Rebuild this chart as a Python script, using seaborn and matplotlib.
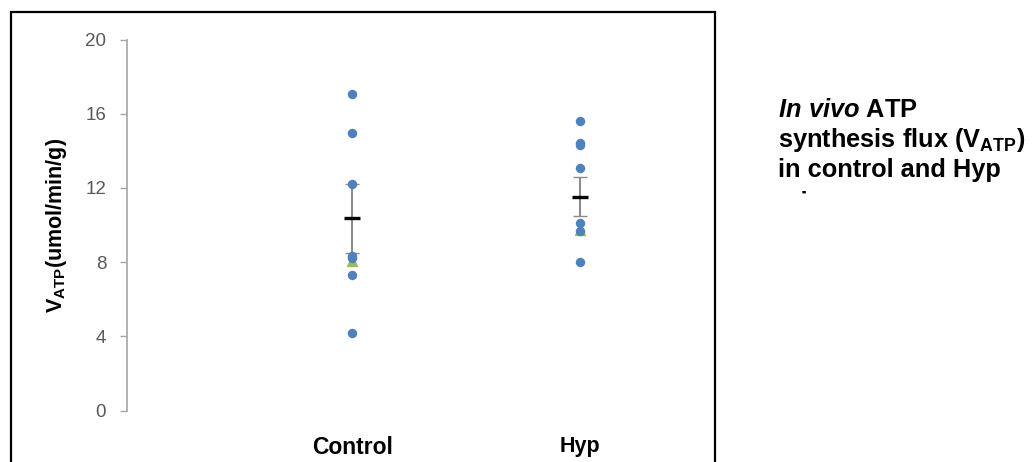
import pandas as pd
import matplotlib
matplotlib.use('Agg')
import matplotlib.pyplot as plt
import seaborn as sns
from matplotlib.patches import Rectangle
from matplotlib.transforms import Bbox

# Values
groups = ['Control', 'Hyp']
control_vatp = [17.05, 14.97, 12.2, 8.35, 8.25, 7.31, 4.19]
hyp_vatp = [15.62, 14.4, 14.3, 13.1, 10.1, 9.69, 8.03]
group_means = [10.37, 11.54]
group_err = [1.85, 1.07]
green_marks = [8.05, 9.75]
y_ticks = [0, 4, 8, 12, 16, 20]

sns.set_theme(style="white")
plt.rcParams['font.family'] = ['Liberation Sans', 'DejaVu Sans']
plt.rcParams['text.color'] = 'black'
plt.rcParams['mathtext.fontset'] = 'custom'
plt.rcParams['mathtext.rm'] = 'Liberation Sans:bold'
plt.rcParams['mathtext.bf'] = 'Liberation Sans:bold'
plt.rcParams['mathtext.it'] = 'Liberation Sans:italic:bold'

W, H = 1036, 462


def make_plot():
    df = pd.DataFrame({
        'group': ['Control'] * len(control_vatp) + ['Hyp'] * len(hyp_vatp),
        'vatp': control_vatp + hyp_vatp,
    })

    fig = plt.figure(figsize=(W / 100, H / 100), dpi=100)
    ax = fig.add_axes([127 / W, 1 - 410.7 / H, 573 / W, 371.2 / H])

    # green markers sit behind the dots
    ax.plot([0, 1], green_marks, ls='none', marker='^', ms=7, color='#9BBB59', zorder=2)

    # error bars (gray line, black caps)
    eb = ax.errorbar([0, 1], group_means, yerr=group_err, fmt='none', ecolor='#8C8C8C',
                     elinewidth=1.5, capsize=5, capthick=1, zorder=2.5)
    for cap in eb[1]:
        cap.set_color('black')

    sns.stripplot(x='group', y='vatp', data=df, order=groups, jitter=False,
                  color='#4F81BD', size=6.8, linewidth=0, zorder=3, ax=ax)

    # mean bars
    ax.plot([0, 1], group_means, ls='none', marker='_', ms=11, mew=2.4, color='black', zorder=4)

    ax.set_ylim(0, 20)
    ax.set_yticks(y_ticks)
    ax.set_xlim(-0.991, 1.53)
    ax.set_xlabel('')
    ax.set_ylabel(r'V$_{\mathbf{ATP}}$(umol/min/g)', fontsize=15.5, fontweight='bold', color='black')
    ax.yaxis.set_label_coords(-0.101, 0.5)

    for side in ['top', 'right', 'bottom']:
        ax.spines[side].set_visible(False)
    ax.spines['left'].set_color('#A6A6A6')
    ax.spines['left'].set_linewidth(1.2)
    ax.tick_params(axis='y', direction='out', length=5, width=1, color='#A6A6A6',
                   labelcolor='#595959', labelsize=13.5, pad=10, left=True)
    ax.tick_params(axis='x', length=0, pad=18, labelsize=15.5, labelcolor='black')
    xlabs = ax.get_xticklabels()
    for lab in xlabs:
        lab.set_fontweight('bold')
    xlabs[0].set_fontsize(16.5)
    ax.grid(False)

    # outer black frame (cut off at the bottom like the reference)
    fig.patches.append(Rectangle((11 / W, -0.2), (715 - 11) / W, 1.2 - 12 / H,
                                 transform=fig.transFigure, fill=False,
                                 edgecolor='black', linewidth=1.6))

    # side caption, last line is hidden except for the dot of the "i"
    tx = 778 / W
    fs = 18.3
    fig.text(tx, 1 - 117 / H, r'$\mathit{In\ vivo}$ ATP', fontsize=fs, fontweight='bold', va='baseline')
    fig.text(tx, 1 - 147 / H, r'synthesis flux (V$_{\mathbf{ATP}}$)', fontsize=fs, fontweight='bold', va='baseline')
    fig.text(tx, 1 - 177 / H, 'in control and Hyp', fontsize=fs, fontweight='bold', va='baseline')
    last = fig.text(tx, 1 - 210 / H, 'mice', fontsize=fs, fontweight='bold', va='baseline')
    last.set_clip_box(Bbox.from_extents(801.5, H - 196, 810, H))
    last.set_clip_on(True)

    fig.savefig('out.png', dpi=100)
    plt.close(fig)


if __name__ == '__main__':
    make_plot()
